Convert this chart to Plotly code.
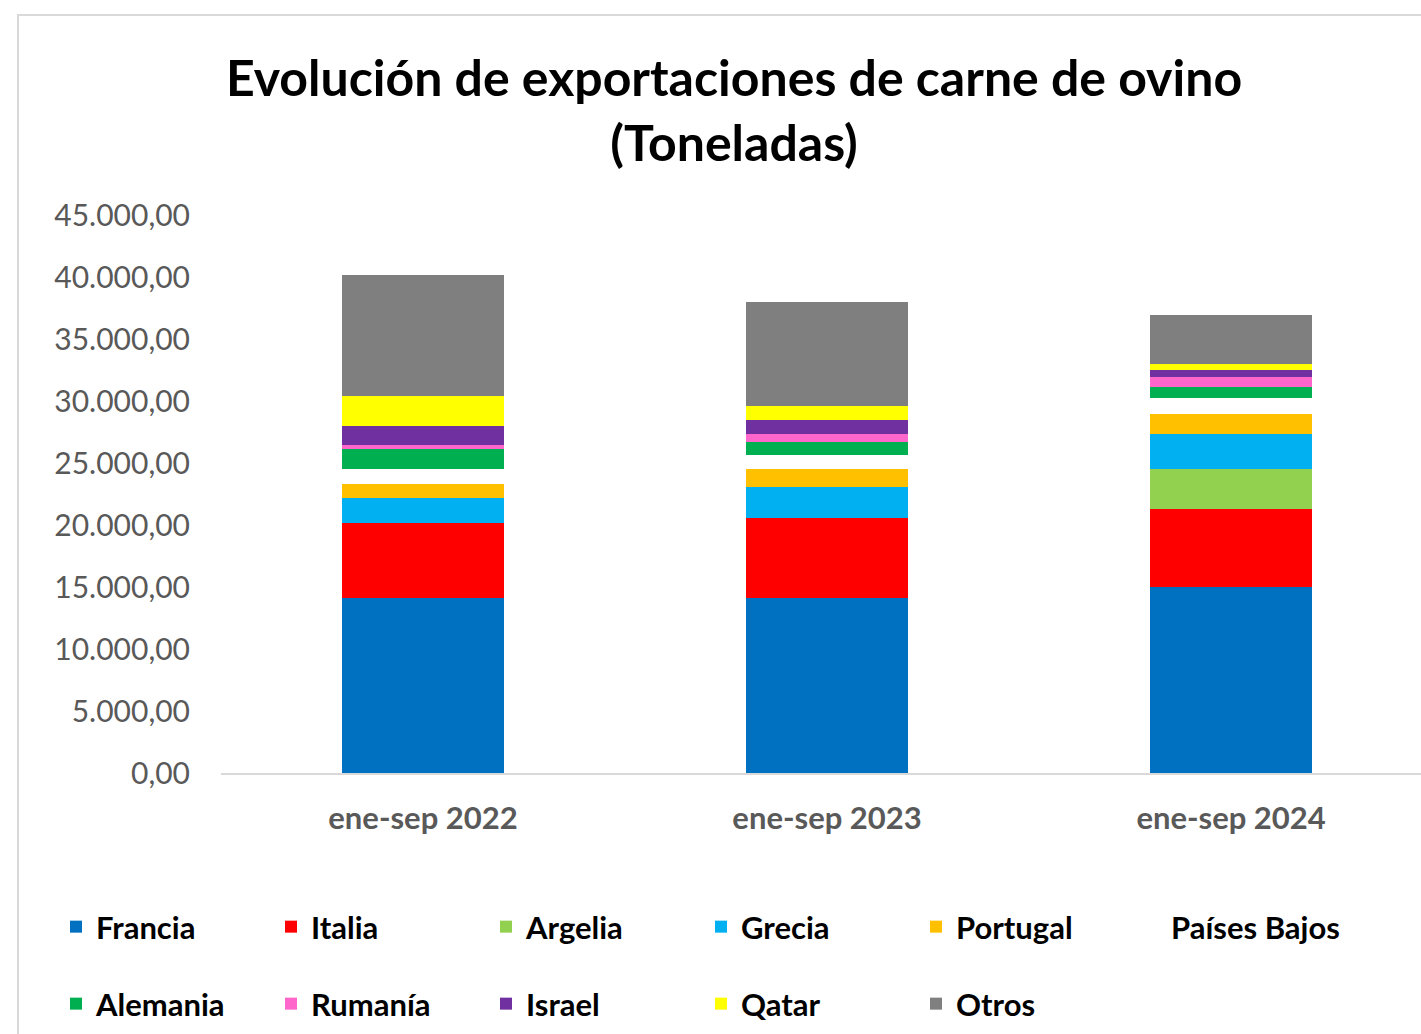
import plotly.graph_objects as go

periodos = ["ene-sep 2022", "ene-sep 2023", "ene-sep 2024"]

francia = [14140, 14140, 15000]
italia = [6000, 6420, 6290]
argelia = [0, 0, 3200]
grecia = [2060, 2500, 2850]
portugal = [1110, 1460, 1610]
paises_bajos = [1210, 1150, 1260]
alemania = [1630, 1050, 940]
rumania = [300, 620, 810]
israel = [1530, 1100, 560]
qatar = [2420, 1130, 490]
otros = [9760, 8410, 3930]

series = [
    ("Francia", francia, "#0070C0", "legend"),
    ("Italia", italia, "#FF0000", "legend"),
    ("Argelia", argelia, "#92D050", "legend"),
    ("Grecia", grecia, "#00B0F0", "legend"),
    ("Portugal", portugal, "#FFC000", "legend"),
    ("Países Bajos", paises_bajos, "#FFFFFF", "legend"),
    ("Alemania", alemania, "#00B050", "legend2"),
    ("Rumanía", rumania, "#FF66CC", "legend2"),
    ("Israel", israel, "#7030A0", "legend2"),
    ("Qatar", qatar, "#FFFF00", "legend2"),
    ("Otros", otros, "#7F7F7F", "legend2"),
]

FONT = "Lato"

fig = go.Figure()
for name, vals, color, leg in series:
    fig.add_trace(go.Bar(
        x=periodos, y=vals, name=name, legend=leg,
        marker=dict(color=color, line=dict(width=0)),
    ))

legend_style = dict(
    orientation="h", traceorder="normal",
    entrywidth=170, entrywidthmode="pixels",
    font=dict(family=FONT, size=31, color="#000000", weight="bold"),
    xanchor="left", yanchor="middle", bgcolor="rgba(0,0,0,0)",
)

fig.update_layout(
    width=1421, height=1034,
    paper_bgcolor="white", plot_bgcolor="white",
    barmode="stack", bargap=0.6,
    separators=",.",
    margin=dict(l=221, r=0, t=215, b=261),
    title=dict(
        text="<b>Evolución de exportaciones de carne de ovino<br>(Toneladas)</b>",
        font=dict(family=FONT, size=50, color="#000000"),
        x=734 / 1421, xanchor="center", xref="container",
        y=1 - 96 / 1034, yanchor="middle", yref="container",
    ),
    xaxis=dict(
        range=[-0.5, 2.47],
        showline=True, linecolor="#D9D9D9", linewidth=2,
        ticks="", ticklabelstandoff=17,
        tickfont=dict(family=FONT, size=31, color="#595959", weight="bold"),
        showgrid=False,
    ),
    yaxis=dict(
        range=[0, 45000], dtick=5000, tickformat=",.2f",
        showgrid=False, zeroline=False, showline=False,
        tickfont=dict(family=FONT, size=30, color="#595959"),
        ticklabelstandoff=30,
    ),
    legend=dict(x=(56 - 221) / 1200, y=(773 - 927) / 558, **legend_style),
    legend2=dict(x=(56 - 221) / 1200, y=(773 - 1004) / 558, **legend_style),
    showlegend=True,
)

# chart area border
fig.add_shape(
    type="rect", xref="paper", yref="paper",
    x0=(18 - 221) / 1200, x1=1.2, y0=-1, y1=(773 - 15) / 558,
    line=dict(color="#D9D9D9", width=2), layer="below",
)

fig.write_html(
    "out.html",
    config={"displayModeBar": False},
    post_script="document.body.style.margin='0px';",
)
